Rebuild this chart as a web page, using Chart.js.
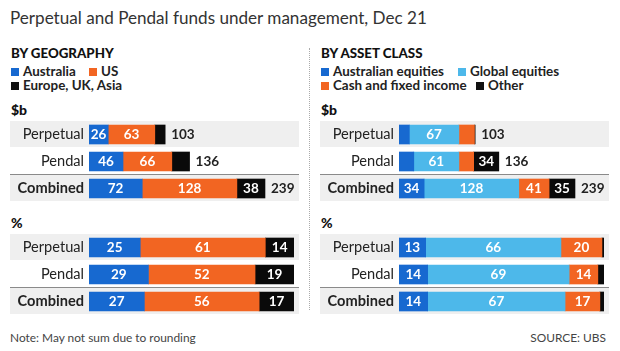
<!DOCTYPE html>
<html><head><meta charset="utf-8">
<script src="https://cdn.jsdelivr.net/npm/chart.js@4"></script>
<style>
body{margin:0;width:620px;height:351px;background:#fff;position:relative;overflow:hidden;font-family:Lato,sans-serif;color:#222}
.t{position:absolute;white-space:nowrap;line-height:1}
.title{left:10px;top:9px;font-family:Lato,sans-serif;font-size:17.1px;color:#333}
.h{font-weight:900;font-size:13.3px;color:#111}
.lg{font-weight:bold;font-size:13.4px;color:#222}
.sq{display:inline-block;width:8px;height:8px;margin-right:4px;vertical-align:0px}
.u{font-weight:900;font-size:14px;color:#111}
.note{font-family:Lato,sans-serif;font-size:11.9px;color:#444}
canvas{position:absolute}
.div{position:absolute;left:309px;top:48px;height:262px;border-left:1px dotted #aaa}
</style></head><body>
<div class="t title">Perpetual and Pendal funds under management, Dec 21</div>
<div class="div"></div>

<div class="t h" style="left:11px;top:47px">BY GEOGRAPHY</div>
<div class="t lg" style="left:11px;top:65px"><span class="sq" style="background:#1769d0"></span>Australia</div>
<div class="t lg" style="left:89px;top:65px"><span class="sq" style="background:#f26522"></span>US</div>
<div class="t lg" style="left:11px;top:79px"><span class="sq" style="background:#111"></span>Europe, UK, Asia</div>
<div class="t u" style="left:11px;top:103px">$b</div>
<div class="t u" style="left:11px;top:216px">%</div>

<div class="t h" style="left:321px;top:47px">BY ASSET CLASS</div>
<div class="t lg" style="left:321px;top:65px"><span class="sq" style="background:#1769d0"></span>Australian equities</div>
<div class="t lg" style="left:458px;top:65px"><span class="sq" style="background:#4db8ea"></span>Global equities</div>
<div class="t lg" style="left:321px;top:79px"><span class="sq" style="background:#f26522"></span>Cash and fixed income</div>
<div class="t lg" style="left:476px;top:79px"><span class="sq" style="background:#111"></span>Other</div>
<div class="t u" style="left:321px;top:103px">$b</div>
<div class="t u" style="left:321px;top:216px">%</div>

<div class="t note" style="left:10px;top:332px">Note: May not sum due to rounding</div>
<div class="t note" style="right:14px;top:332px">SOURCE: UBS</div>

<canvas id="c1" width="289" height="81" style="left:10px;top:121px"></canvas>
<canvas id="c2" width="289" height="81" style="left:10px;top:234px"></canvas>
<canvas id="c3" width="289" height="81" style="left:320px;top:121px"></canvas>
<canvas id="c4" width="289" height="81" style="left:320px;top:234px"></canvas>
<script>
const rowLabels = ['Perpetual', 'Pendal', 'Combined'];

const geoSeries = ['Australia', 'US', 'Europe, UK, Asia'];
const geoAustraliaB = [26, 46, 72];
const geoUSB = [63, 66, 128];
const geoEuropeB = [14, 24, 38];
const geoTotalB = [103, 136, 239];
const geoAustraliaPct = [25, 29, 27];
const geoUSPct = [61, 52, 56];
const geoEuropePct = [14, 19, 17];

const assetSeries = ['Australian equities', 'Global equities', 'Cash and fixed income', 'Other'];
const assetAusEqB = [14, 20, 34];
const assetGlobalEqB = [67, 61, 128];
const assetCashB = [21, 20, 41];
const assetOtherB = [1, 34, 35];
const assetTotalB = [103, 136, 239];
const assetAusEqPct = [13, 14, 14];
const assetGlobalEqPct = [66, 69, 67];
const assetCashPct = [20, 14, 17];
const assetOtherPct = [1, 3, 2];

const C_BLUE = '#1769d0', C_ORANGE = '#f26522', C_BLACK = '#0a0a0a', C_LIGHT = '#4db8ea';

const bandPlugin = {
  id: 'bands',
  beforeDraw(chart) {
    const ctx = chart.ctx, y = chart.scales.y, w = chart.width;
    ctx.save();
    ctx.fillStyle = '#efefef';
    [0, 2].forEach(i => {
      const yc = y.getPixelForValue(i);
      ctx.fillRect(0, Math.floor(yc - 13), w, 26);
    });
    const yc2 = y.getPixelForValue(2);
    ctx.fillStyle = '#8a8a8a';
    ctx.fillRect(0, Math.floor(yc2 - 14), w, 1);
    ctx.restore();
  }
};

const labelPlugin = {
  id: 'vlabels',
  afterDatasetsDraw(chart, args, opts) {
    const ctx = chart.ctx;
    ctx.save();
    ctx.font = 'bold 13.5px Lato';
    ctx.textBaseline = 'middle';
    chart.data.datasets.forEach((ds, di) => {
      const meta = chart.getDatasetMeta(di);
      meta.data.forEach((bar, i) => {
        const w = bar.x - bar.base;
        if (w >= 18.5) {
          ctx.fillStyle = '#fff';
          ctx.textAlign = 'center';
          ctx.fillText(String(ds.data[i]), (bar.x + bar.base) / 2, bar.y + 0.5);
        }
      });
    });
    const totals = opts.totals;
    if (totals) {
      const last = chart.getDatasetMeta(chart.data.datasets.length - 1);
      last.data.forEach((bar, i) => {
        ctx.fillStyle = '#222';
        ctx.textAlign = 'left';
        ctx.fillText(String(totals[i]), bar.x + 6, bar.y + 0.5);
      });
    }
    ctx.restore();
  }
};

function makeChart(id, names, series, colors, totals, max, padRight) {
  return new Chart(document.getElementById(id), {
    type: 'bar',
    data: {
      labels: rowLabels,
      datasets: series.map((d, k) => ({
        label: names[k], data: d, backgroundColor: colors[k],
        barThickness: 19, borderWidth: 0
      }))
    },
    options: {
      indexAxis: 'y',
      responsive: false,
      animation: false,
      devicePixelRatio: 1,
      layout: { padding: { left: 0, right: padRight, top: 0, bottom: 0 } },
      plugins: { legend: { display: false }, tooltip: { enabled: false }, vlabels: { totals: totals } },
      scales: {
        x: { stacked: true, display: false, min: 0, max: max },
        y: {
          stacked: true,
          grid: { display: false, drawTicks: false }, border: { display: false },
          afterFit(s) { s.width = 79; s.paddingTop = 0; s.paddingBottom = 0; },
          ticks: {
            padding: 5, color: '#222',
            font: (c) => ({ family: 'Lato', size: 14.6, weight: c.index === 2 ? 'bold' : 'normal' })
          }
        }
      }
    },
    plugins: [bandPlugin, labelPlugin]
  });
}

makeChart('c1', geoSeries, [geoAustraliaB, geoUSB, geoEuropeB], [C_BLUE, C_ORANGE, C_BLACK], geoTotalB, 284, 0);
makeChart('c2', geoSeries, [geoAustraliaPct, geoUSPct, geoEuropePct], [C_BLUE, C_ORANGE, C_BLACK], null, 100, 5);
makeChart('c3', assetSeries, [assetAusEqB, assetGlobalEqB, assetCashB, assetOtherB], [C_BLUE, C_LIGHT, C_ORANGE, C_BLACK], assetTotalB, 284, 0);
makeChart('c4', assetSeries, [assetAusEqPct, assetGlobalEqPct, assetCashPct, assetOtherPct], [C_BLUE, C_LIGHT, C_ORANGE, C_BLACK], null, 100, 5);
</script>
</body></html>
